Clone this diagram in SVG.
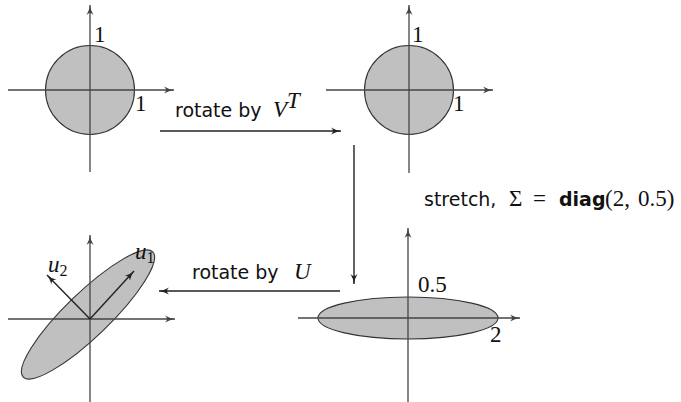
<svg xmlns="http://www.w3.org/2000/svg" width="681" height="402" viewBox="0 0 681 402">
<defs>
<marker id="ah" markerWidth="12" markerHeight="8" refX="10" refY="4" orient="auto" markerUnits="userSpaceOnUse">
<path d="M0,0.5 Q5,3.5 10,4 Q5,4.5 0,7.5 Q4,4 0,0.5 Z" fill="#222"/>
</marker>
<marker id="ahg" markerWidth="12" markerHeight="8" refX="10" refY="4" orient="auto" markerUnits="userSpaceOnUse">
<path d="M0,0.5 Q5,3.5 10,4 Q5,4.5 0,7.5 Q4,4 0,0.5 Z" fill="#444"/>
</marker>
</defs>
<style>
.ax{stroke:#444;stroke-width:1.3;fill:none;marker-end:url(#ahg)}
.sh{fill:#c0c0c0;stroke:#333;stroke-width:1.1}
.ar{stroke:#222;stroke-width:1.4;fill:none;marker-end:url(#ah)}
.m{font-family:"Liberation Serif","DejaVu Serif",serif;font-size:23px;fill:#111}
.mi{font-family:"Liberation Serif","DejaVu Serif",serif;font-size:23px;font-style:italic;fill:#111}
.t{font-family:"DejaVu Sans","Liberation Sans",sans-serif;font-size:19px;fill:#111}
</style>
<g id="circle1">
<circle class="sh" cx="90" cy="90" r="44.5"/>
<line class="ax" x1="8" y1="90" x2="174" y2="90"/>
<line class="ax" x1="90" y1="172" x2="90" y2="5"/>
<text class="m" x="94" y="42">1</text>
<text class="m" x="135" y="111">1</text>
</g>
<g id="circle2">
<circle class="sh" cx="409" cy="90" r="44.5"/>
<line class="ax" x1="326" y1="90" x2="493" y2="90"/>
<line class="ax" x1="409" y1="173" x2="409" y2="5"/>
<text class="m" x="412" y="42">1</text>
<text class="m" x="453" y="111">1</text>
</g>
<g id="ellipse">
<ellipse class="sh" cx="408" cy="318" rx="90" ry="21"/>
<line class="ax" x1="298" y1="318" x2="520" y2="318"/>
<line class="ax" x1="408" y1="402" x2="408" y2="228"/>
<text class="m" x="418" y="292">0.5</text>
<text class="m" x="490" y="342">2</text>
</g>
<g id="rotated">
<ellipse class="sh" cx="88" cy="314.5" rx="90" ry="22" transform="rotate(-44 88 314.5)"/>
<line class="ax" x1="8" y1="319" x2="175" y2="319"/>
<line class="ax" x1="90" y1="402" x2="90" y2="235"/>
<line class="ar" x1="90" y1="319" x2="134" y2="271"/>
<line class="ar" x1="90" y1="319" x2="47" y2="275"/>
<text class="mi" x="48" y="272">u<tspan font-size="16" font-style="normal" dy="4">2</tspan></text>
<text class="mi" x="135" y="259">u<tspan font-size="16" font-style="normal" dy="4">1</tspan></text>
</g>
<g id="connectors">
<line class="ar" x1="160" y1="131" x2="341" y2="131"/>
<text class="t" x="175" y="117">rotate by <tspan class="mi" x="273">V</tspan><tspan class="mi" font-size="16" dy="-9">T</tspan></text>
<line class="ar" x1="354" y1="145" x2="354" y2="284"/>
<text class="t" x="424" y="206">stretch, <tspan class="m" x="509">Σ</tspan><tspan class="m" x="533" font-family="DejaVu Serif" font-size="22">=</tspan><tspan font-weight="bold" x="559">diag</tspan><tspan class="m" x="605">(2,</tspan><tspan class="m" x="638">0.5)</tspan></text>
<line class="ar" x1="340" y1="291" x2="159" y2="291"/>
<text class="t" x="192" y="279">rotate by <tspan class="mi" x="294">U</tspan></text>
</g>
</svg>
